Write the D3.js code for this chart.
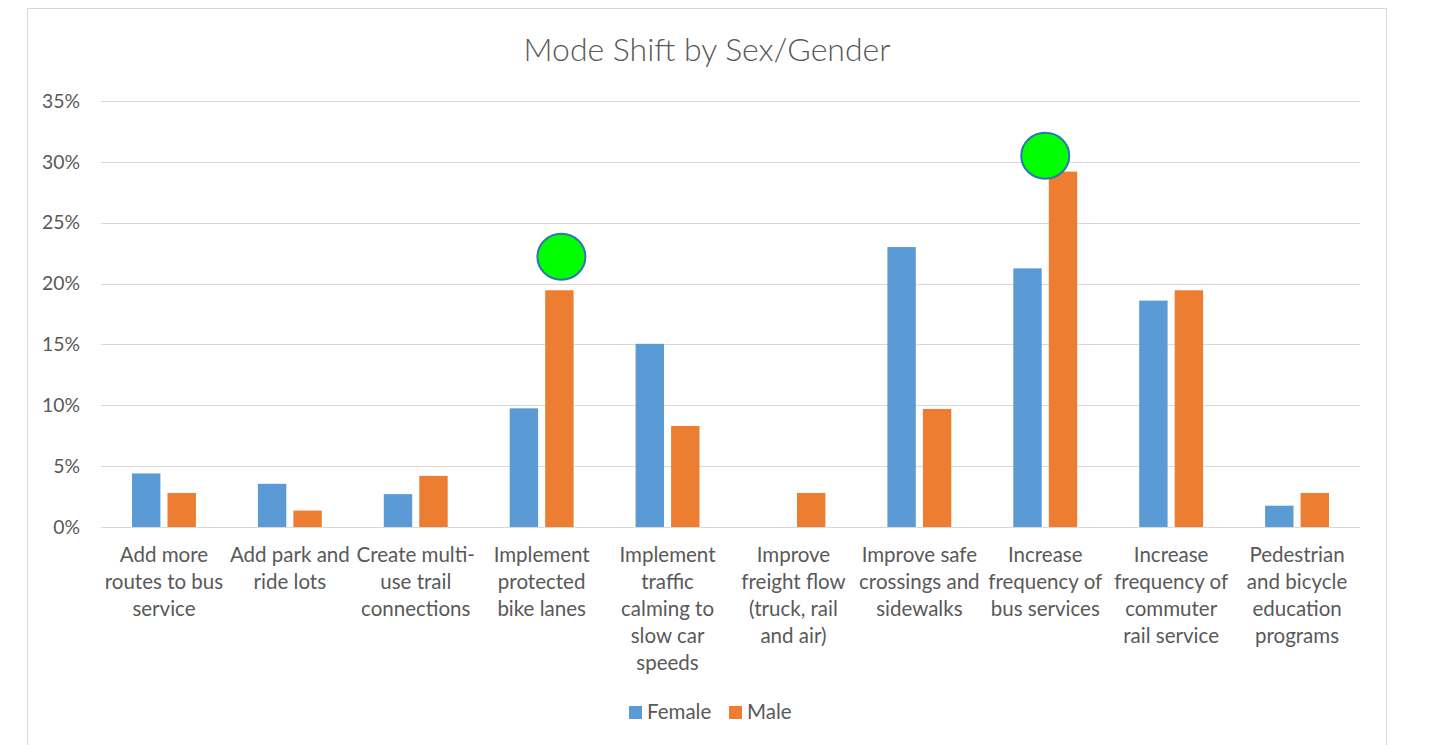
<!DOCTYPE html>
<html><head><meta charset="utf-8">
<script src="https://cdn.jsdelivr.net/npm/d3@7"></script>
<style>
html,body{margin:0;padding:0;background:#fff;}
svg{display:block;}
</style></head>
<body>
<svg id="chart" width="1436" height="745"></svg>
<script>
const title = "Mode Shift by Sex/Gender";
const categories = [
  ["Add more","routes to bus","service"],
  ["Add park and","ride lots"],
  ["Create multi-","use trail","connections"],
  ["Implement","protected","bike lanes"],
  ["Implement","traffic","calming to","slow car","speeds"],
  ["Improve","freight flow","(truck, rail","and air)"],
  ["Improve safe","crossings and","sidewalks"],
  ["Increase","frequency of","bus services"],
  ["Increase","frequency of","commuter","rail service"],
  ["Pedestrian","and bicycle","education","programs"]
];
const seriesNames = ["Female","Male"];
const female = [4.4, 3.55, 2.7, 9.75, 15.05, 0, 23.0, 21.25, 18.6, 1.75];
const male   = [2.8, 1.35, 4.2, 19.45, 8.3, 2.8, 9.7, 29.2, 19.45, 2.8];
const yTicks = [0,5,10,15,20,25,30,35];
// highlight markers: category index, anchor within category, value where marker is centred
const markerCats = [3, 7];
const markerAnchors = ["male", "center"];
const markerValues = [22.2, 30.5];

const colors = ["#5B9BD5","#ED7D31"];
const fontFam = "Lato, 'Open Sans', 'DejaVu Sans', sans-serif";
const textColor = "#595959";

const svg = d3.select("#chart");
const ids = categories.map((c,i)=>i);

// chart frame
svg.append("rect").attr("x",27.5).attr("y",8.5).attr("width",1359).attr("height",760)
  .attr("fill","#fff").attr("stroke","#D9D9D9").attr("stroke-width",1);

const plot = {left:101, right:1360, top:101, bottom:527};
const x0 = d3.scaleBand().domain(ids).range([plot.left, plot.right]);
const x1 = d3.scaleBand().domain([0,1]).range([31, x0.bandwidth()-31]).paddingInner(0.2);
const y = d3.scaleLinear().domain([0,35]).range([plot.bottom, plot.top]);

function fitSize(sel, targetWidth){
  const w = sel.node().getComputedTextLength();
  const fs = parseFloat(sel.attr("font-size"));
  sel.attr("font-size", fs*targetWidth/w);
  return fs*targetWidth/w;
}

// gridlines
svg.append("g").selectAll("line").data(yTicks).join("line")
  .attr("x1",plot.left).attr("x2",plot.right)
  .attr("y1",d=>Math.round(y(d))+0.5).attr("y2",d=>Math.round(y(d))+0.5)
  .attr("stroke","#D9D9D9").attr("stroke-width",1);

// y axis labels
const yAxis = d3.axisLeft(y).tickValues(yTicks).tickFormat(d=>d+"%").tickSize(0).tickPadding(21);
const gy = svg.append("g").attr("transform",`translate(${plot.left},0)`).call(yAxis);
gy.select(".domain").remove();
gy.selectAll("text").attr("fill",textColor).attr("font-family",fontFam).attr("font-size",16);
const t35 = gy.selectAll("text").filter(d=>d===35);
const ySize = fitSize(t35, 38);
gy.selectAll("text").attr("font-size",ySize);

// bars
const groups = svg.append("g").selectAll("g").data(ids).join("g")
  .attr("transform",i=>`translate(${x0(i)},0)`);
groups.selectAll("rect").data(i=>[female[i],male[i]].map((v,s)=>({v,s}))).join("rect")
  .attr("x",d=>x1(d.s)).attr("width",x1.bandwidth())
  .attr("y",d=>y(d.v)).attr("height",d=>y(0)-y(d.v))
  .attr("fill",d=>colors[d.s]);

// markers
function markerX(c, anchor){
  if (anchor === "male") return x0(c)+x1(1)+x1.bandwidth()/2 + 2;
  return x0(c)+x0.bandwidth()/2;
}
svg.append("g").selectAll("ellipse")
  .data(markerCats.map((c,k)=>({c,a:markerAnchors[k],v:markerValues[k]}))).join("ellipse")
  .attr("cx",d=>markerX(d.c,d.a))
  .attr("cy",d=>y(d.v))
  .attr("rx",24).attr("ry",23)
  .attr("fill","#00FF00").attr("stroke","#2E75B6").attr("stroke-width",2);

// category labels
const labG = svg.append("g").attr("font-family",fontFam).attr("fill",textColor).attr("text-anchor","middle");
const probe = labG.append("text").attr("font-size",18).text("Add park and");
const catSize = fitSize(probe, 120);
probe.remove();
ids.forEach(i=>{
  const t = labG.append("text").attr("font-size",catSize)
    .attr("x",x0(i)+x0.bandwidth()/2).attr("y",562);
  categories[i].forEach((line,k)=>{
    t.append("tspan").attr("x",x0(i)+x0.bandwidth()/2).attr("y",562+k*27).text(line);
  });
});

// title
const tt = svg.append("text").attr("x",707).attr("y",61).attr("text-anchor","middle")
  .attr("font-family",fontFam).attr("font-weight",300).attr("font-size",28).attr("fill",textColor).text(title);
fitSize(tt, 367);

// legend
const leg = svg.append("g").attr("font-family",fontFam).attr("fill",textColor);
const legX = [629, 729];
seriesNames.forEach((n,s)=>{
  leg.append("rect").attr("x",legX[s]).attr("y",706).attr("width",13).attr("height",13).attr("fill",colors[s]);
  leg.append("text").attr("x",legX[s]+18).attr("y",719).attr("font-size",catSize).text(n);
});
</script>
</body></html>
